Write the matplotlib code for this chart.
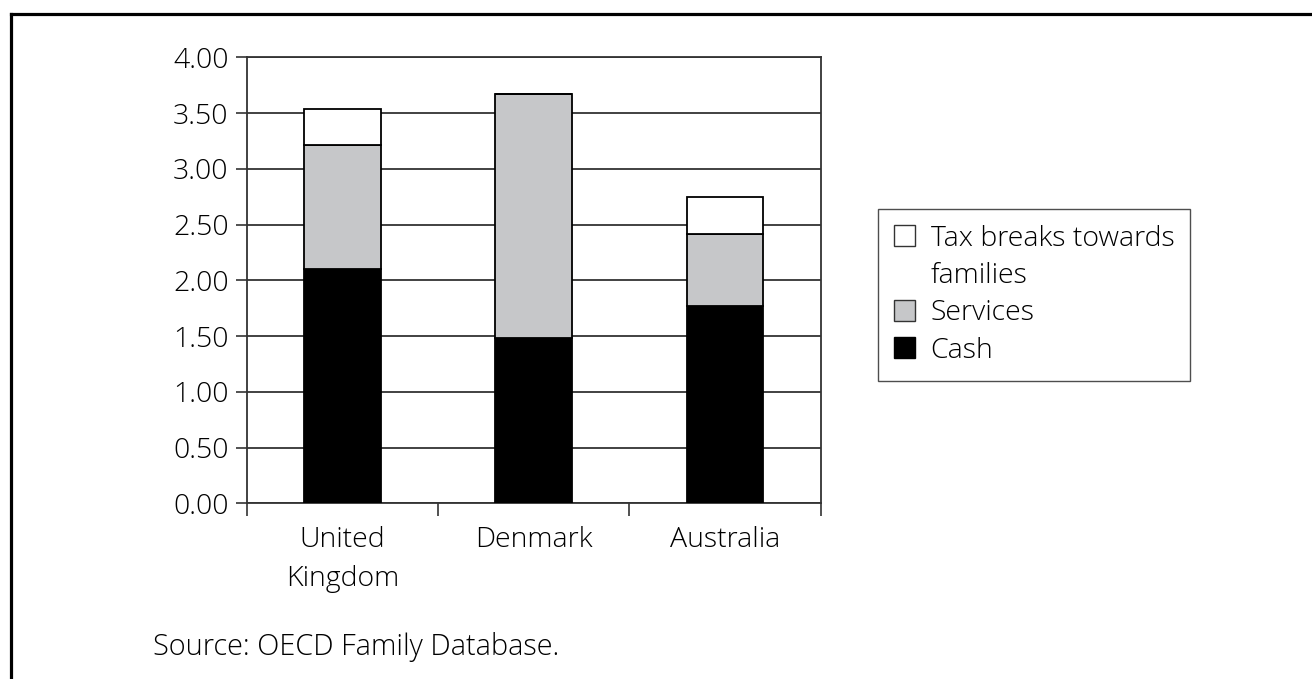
import matplotlib
matplotlib.use("Agg")
import matplotlib.pyplot as plt
from matplotlib.patches import Patch
from matplotlib.lines import Line2D
import numpy as np

plt.rcParams['font.family'] = ['Open Sans', 'DejaVu Sans']
plt.rcParams['font.weight'] = 'light'

# Public spending on family benefits, % of GDP
countries = ["United\nKingdom", "Denmark", "Australia"]
cash = [2.10, 1.48, 1.77]
services = [1.11, 2.19, 0.65]
tax_breaks = [0.33, 0.00, 0.33]
yticks = [0.0, 0.5, 1.0, 1.5, 2.0, 2.5, 3.0, 3.5, 4.0]

FS = 20.5
fig = plt.figure(figsize=(13.12, 6.79), dpi=100)
ax = fig.add_axes([0.188, 0.2585, 0.4375, 0.657])

x = np.arange(len(countries))
w = 0.40
edge = dict(edgecolor="black", linewidth=1.3, zorder=3)
cash_arr = np.array(cash)
serv_arr = np.array(services)
ax.bar(x, cash, w, color="black", **edge)
ax.bar(x, services, w, bottom=cash_arr, color="#c6c7c9", **edge)
ax.bar(x, tax_breaks, w, bottom=cash_arr + serv_arr, color="white", **edge)

ax.set_xlim(-0.5, len(countries) - 0.5)
ax.set_ylim(0, 4.0)
ax.set_yticks(yticks)
ax.set_yticklabels([f"{v:.2f}" for v in yticks])
ax.yaxis.grid(True, color="#333333", linewidth=1.3, zorder=0)
ax.set_axisbelow(True)

ax.set_xticks(x)
ax.set_xticklabels(countries, linespacing=1.55)
ax.set_xticks(np.arange(len(countries) + 1) - 0.5, minor=True)
ax.tick_params(axis="x", which="major", length=0, pad=16, labelsize=FS)
ax.tick_params(axis="x", which="minor", length=9, width=1.2, direction="out", color="#333333")
ax.tick_params(axis="y", length=8, width=1.2, pad=5, labelsize=FS, color="#333333")
for s in ax.spines.values():
    s.set_color("#333333")
    s.set_linewidth(1.3)

handles = [
    Patch(facecolor="white", edgecolor="#333333", linewidth=1.0),
    Patch(facecolor="none", edgecolor="none"),
    Patch(facecolor="#c6c7c9", edgecolor="#333333", linewidth=1.0),
    Patch(facecolor="black", edgecolor="black", linewidth=1.0),
]
labels = ["Tax breaks towards", "families", "Services", "Cash"]
leg = fig.legend(handles, labels, loc="upper left",
                 bbox_to_anchor=(878 / 1312, 1 - 209 / 679),
                 fontsize=FS, frameon=True, fancybox=False, shadow=False,
                 handlelength=0.75, handleheight=0.75, handletextpad=0.55,
                 labelspacing=0.33, borderpad=0.55, borderaxespad=0)
leg.get_frame().set_edgecolor("#222222")
leg.get_frame().set_linewidth(1.0)

fig.text(153 / 1312, 1 - 655 / 679, "Source: OECD Family Database.",
         fontsize=FS + 0.3, ha="left", va="baseline")

# outer frame: top and left rules
fig.add_artist(Line2D([11 / 1312, 1.0], [1 - 14 / 679, 1 - 14 / 679],
                      color="black", linewidth=2.3, transform=fig.transFigure))
fig.add_artist(Line2D([11 / 1312, 11 / 1312], [1 - 14 / 679, 0.0],
                      color="black", linewidth=2.3, transform=fig.transFigure))

fig.savefig("out.png", dpi=100)
